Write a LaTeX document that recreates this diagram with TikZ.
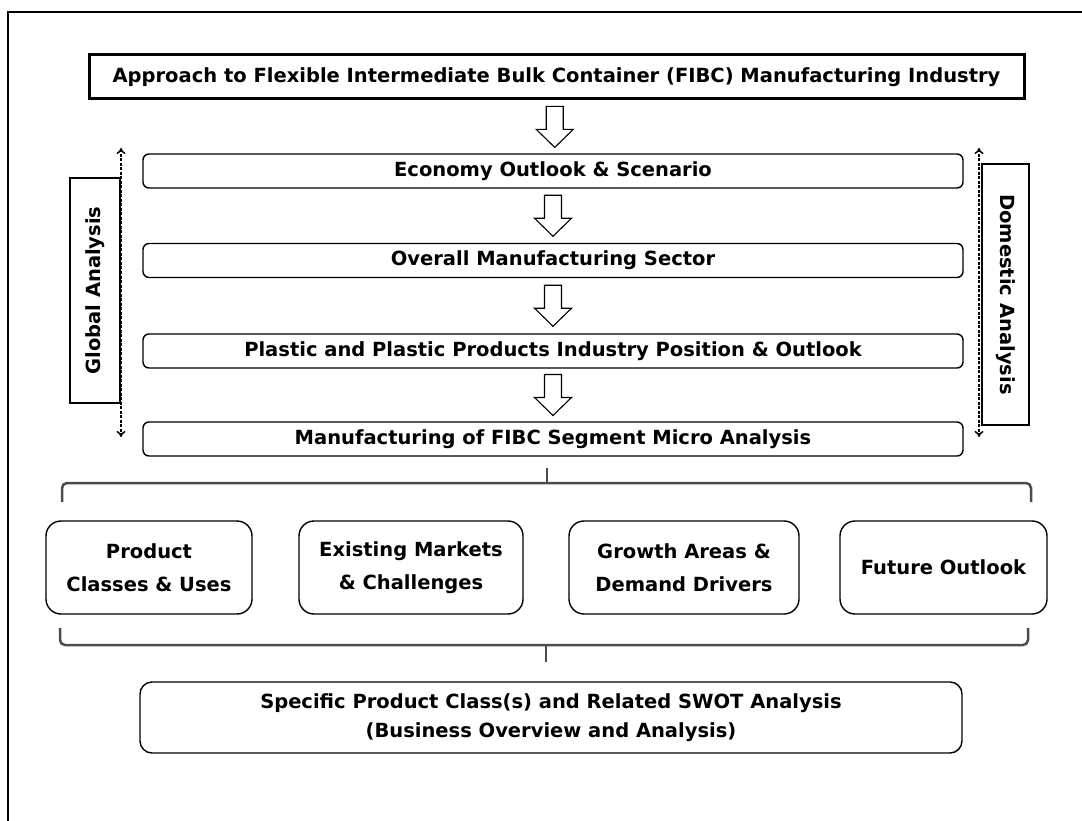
\documentclass[tikz,border=0pt]{standalone}
\usepackage{fontspec}
\setmainfont{DejaVu Sans}
\usetikzlibrary{arrows.meta,calc}
\tikzset{
  mainbox/.style={draw, line width=1.4pt, rounded corners=6pt, minimum height=34pt, inner sep=0pt, align=center, font=\bfseries\fontsize{19.5}{23}\selectfont},
  subbox/.style={draw, line width=1.4pt, rounded corners=15pt, minimum height=93pt, inner sep=0pt, align=center, font=\bfseries\fontsize{19.5}{33}\selectfont},
  sidebox/.style={draw, line width=1.1pt, inner sep=0pt, font=\bfseries\fontsize{19.5}{23}\selectfont},
  dashline/.style={line width=1.5pt, dash pattern=on 3pt off 1.5pt, {To[length=6pt,width=9pt]}-{To[length=6pt,width=9pt]}},
  bracketline/.style={draw=black!70, line width=2.5pt, rounded corners=5pt},
  blockarr/.style={draw, line width=1.1pt, fill=white, line join=miter}
}
\newcommand\blockdown[1]{\draw[blockarr] (#1) ++(-8.5,-20.5) -- ++(17,0) -- ++(0,23) -- ++(10,0) -- ++(-18.5,18) -- ++(-18.5,-18) -- ++(10,0) -- cycle;}
\begin{document}
\begin{tikzpicture}[x=1pt,y=-1pt]
\useasboundingbox (0,0) rectangle (1082,821);
\begin{scope}
\clip (0,0) rectangle (1082,821);
\draw[line width=2pt] (8,12) rectangle (1120,860);
\end{scope}
\node[draw, line width=3pt, minimum width=935pt, minimum height=44pt, inner sep=0pt, font=\bfseries\fontsize{19.5}{23}\selectfont] (title) at (556.5,77) {Approach to Flexible Intermediate Bulk Container (FIBC) Manufacturing Industry};
\node[mainbox, minimum width=820pt] (econ) at (553,171) {Economy Outlook \& Scenario};
\node[mainbox, minimum width=820pt] (overall) at (553,260.5) {Overall Manufacturing Sector};
\node[mainbox, minimum width=820pt] (plastic) at (553,351) {Plastic and Plastic Products Industry Position \& Outlook};
\node[mainbox, minimum width=820pt] (manuf) at (553,439) {Manufacturing of FIBC Segment Micro Analysis};
\coordinate (a1) at ($(title.south)!0.5!(econ.north)$);
\coordinate (a2) at ($(econ.south)!0.5!(overall.north)$);
\coordinate (a3) at ($(overall.south)!0.5!(plastic.north)$);
\coordinate (a4) at ($(plastic.south)!0.5!(manuf.north)$);
\blockdown{a1}
\blockdown{a2}
\blockdown{a3}
\blockdown{a4}
\node[sidebox, rotate=90, minimum width=225pt, minimum height=50pt] (global) at (95,290.5) {Global Analysis};
\node[sidebox, rotate=-90, minimum width=261pt, minimum height=47pt] (domestic) at (1005.5,294.5) {Domestic Analysis};
\coordinate (gl1) at (121,148);
\coordinate (gl2) at (121,437);
\coordinate (dm1) at (979,148);
\coordinate (dm2) at (979,437);
\draw[dashline] (gl1) -- (gl2);
\draw[dashline] (dm1) -- (dm2);
\node[subbox, minimum width=206pt] (p1) at (149,567.5) {Product\\Classes \& Uses};
\node[subbox, minimum width=224pt] (p2) at (411,567.5) {Existing Markets\\\& Challenges};
\node[subbox, minimum width=230pt] (p3) at (684,567.5) {Growth Areas \&\\Demand Drivers};
\node[subbox, minimum width=207pt] (p4) at (943.5,567.5) {Future Outlook};
\node[draw, line width=1.4pt, rounded corners=12pt, minimum width=822pt, minimum height=71pt, inner sep=0pt, align=center, font=\bfseries\fontsize{19.5}{29}\selectfont] (swot) at (551,717.5) {Specific Product Class(s) and Related SWOT Analysis\\(Business Overview and Analysis)};
\coordinate (tb1) at (62,502);
\coordinate (tb2) at (1031,502);
\coordinate (tbm) at (547,483);
\coordinate (tbt) at (547,468);
\draw[bracketline] (tb1) -- (62,483) -- (1031,483) -- (tb2);
\draw[draw=black!70, line width=2.5pt] (tbm) -- (tbt);
\coordinate (bb1) at (60,628);
\coordinate (bb2) at (1028,628);
\coordinate (bbm) at (546,645);
\coordinate (bbt) at (546,662);
\draw[bracketline] (bb1) -- (60,645) -- (1028,645) -- (bb2);
\draw[draw=black!70, line width=2.5pt] (bbm) -- (bbt);
\end{tikzpicture}
\end{document}
